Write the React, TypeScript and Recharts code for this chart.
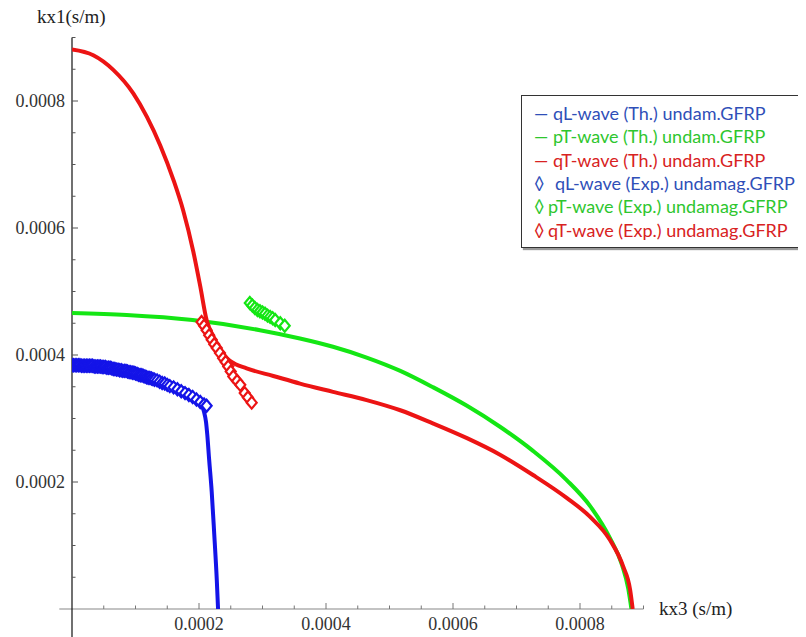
import React from "react";
import { ComposedChart, Line, Scatter, XAxis, YAxis, ReferenceLine } from "recharts";

type Pt = [number, number];

// theory curves (kx3, kx1)
const qLTheory: Pt[] = [
  [0, 0.000383], [0.00003, 0.000383], [0.00006, 0.000381], [0.00009, 0.000377],
  [0.00012, 0.000369], [0.00015, 0.000359], [0.00017, 0.00035], [0.00019, 0.000339],
  [0.000198, 0.000331], [0.000204, 0.000322], [0.000208, 0.00031], [0.000211, 0.000295],
  [0.000213, 0.000275], [0.000216, 0.000235], [0.00022, 0.000185], [0.000224, 0.000118],
  [0.000228, 0.000046], [0.00023, 0],
];

const pTTheory: Pt[] = [
  [0, 0.000466], [0.000086, 0.000463], [0.00019, 0.000455], [0.000296, 0.000439],
  [0.000359, 0.000426], [0.000411, 0.000413], [0.000464, 0.000396], [0.000517, 0.000375],
  [0.000569, 0.000349], [0.000622, 0.00032], [0.000674, 0.000287], [0.000726, 0.000249],
  [0.000779, 0.000203], [0.000816, 0.000162], [0.000847, 0.000112], [0.000866, 0.00007],
  [0.000876, 0.000032], [0.000881, 0],
];

const qTTheory: Pt[] = [
  [0, 0.000881], [0.0000335, 0.000872], [0.000065, 0.000849], [0.0000965, 0.000812],
  [0.000118, 0.000775], [0.000139, 0.00073], [0.00016, 0.000675], [0.000175, 0.000628],
  [0.000191, 0.000563], [0.000202, 0.000508], [0.000212, 0.000455], [0.000222, 0.00043],
  [0.000232, 0.000411], [0.00024, 0.000399], [0.00025, 0.00039], [0.000275, 0.000379],
  [0.000317, 0.000367], [0.000359, 0.000355], [0.000411, 0.000342], [0.000464, 0.000329],
  [0.000517, 0.000313], [0.000569, 0.000292], [0.000622, 0.000269], [0.000674, 0.000243],
  [0.000726, 0.000211], [0.000779, 0.000175], [0.000816, 0.000145], [0.000847, 0.000109],
  [0.000868, 0.000067], [0.000879, 0.00003], [0.000883, 0],
];

// experimental points
const qLExp: Pt[] = [
  [0, 0.000384], [0.0000025, 0.000384], [0.000005, 0.000384], [0.0000075, 0.000384],
  [0.00001, 0.000384], [0.0000125, 0.000384], [0.000015, 0.000383], [0.0000175, 0.000383],
  [0.00002, 0.000383], [0.0000225, 0.000383], [0.000025, 0.000383], [0.0000275, 0.000383],
  [0.00003, 0.000383], [0.0000325, 0.000383], [0.000035, 0.000382], [0.0000375, 0.000382],
  [0.00004, 0.000382], [0.0000425, 0.000382], [0.000045, 0.000382], [0.0000475, 0.000381],
  [0.00005, 0.000381], [0.0000525, 0.000381], [0.000055, 0.00038], [0.0000575, 0.00038],
  [0.00006, 0.00038], [0.0000625, 0.000379], [0.000065, 0.000378], [0.0000675, 0.000378],
  [0.00007, 0.000377], [0.0000725, 0.000377], [0.000075, 0.000376], [0.0000775, 0.000376],
  [0.00008, 0.000375], [0.0000825, 0.000375], [0.000085, 0.000375], [0.0000875, 0.000374],
  [0.00009, 0.000373], [0.0000925, 0.000373], [0.000095, 0.000372], [0.0000975, 0.000372],
  [0.0001, 0.000371], [0.0001025, 0.00037], [0.000105, 0.000369], [0.0001075, 0.000368],
  [0.00011, 0.000368], [0.0001125, 0.000367], [0.000115, 0.000366], [0.0001175, 0.000365],
  [0.00012, 0.000364], [0.0001225, 0.000364], [0.000125, 0.000363], [0.0001275, 0.000362],
  [0.00013, 0.000361], [0.000134, 0.00036], [0.000138, 0.000358], [0.000142, 0.000356],
  [0.000146, 0.000355], [0.00015, 0.000353], [0.000154, 0.000351], [0.00016, 0.000349],
  [0.000166, 0.000346], [0.000172, 0.000343], [0.000178, 0.00034], [0.000184, 0.000337],
  [0.00019, 0.000334], [0.000196, 0.00033], [0.000202, 0.000326], [0.000208, 0.000322],
  [0.000212, 0.00032],
];

const pTExp: Pt[] = [
  [0.00028, 0.000482], [0.000284, 0.000478], [0.000288, 0.000474], [0.000292, 0.000471],
  [0.000296, 0.000469], [0.0003, 0.000467], [0.000304, 0.000465], [0.000308, 0.000462],
  [0.000312, 0.00046], [0.000316, 0.000458], [0.00032, 0.000455], [0.000328, 0.00045],
  [0.000335, 0.000446],
];

const qTExp: Pt[] = [
  [0.000204, 0.000452], [0.000208, 0.000446], [0.000212, 0.000439], [0.000216, 0.000431],
  [0.00022, 0.000424], [0.000224, 0.000417], [0.000228, 0.000411], [0.000233, 0.000403],
  [0.000238, 0.000395], [0.000242, 0.000389], [0.000246, 0.000382], [0.00025, 0.000374],
  [0.000254, 0.000366], [0.00026, 0.000359], [0.000265, 0.000353], [0.000272, 0.00034],
  [0.000277, 0.000333], [0.000283, 0.000325],
];

const axisTicks = [
  0.00005, 0.0001, 0.00015, 0.0002, 0.00025, 0.0003, 0.00035, 0.0004, 0.00045,
  0.0005, 0.00055, 0.0006, 0.00065, 0.0007, 0.00075, 0.0008, 0.00085, 0.0009,
];
const majorTicks = [0.0002, 0.0004, 0.0006, 0.0008];

const BLUE = "#1414e8";
const GREEN = "#14e614";
const RED = "#ec1414";

const legendItems = [
  { mark: "—", label: "qL-wave (Th.) undam.GFRP", color: "#2f4fb8", markX: 12, textX: 31 },
  { mark: "—", label: "pT-wave (Th.) undam.GFRP", color: "#2ec62e", markX: 12, textX: 31 },
  { mark: "—", label: "qT-wave (Th.) undam.GFRP", color: "#d82222", markX: 12, textX: 31 },
  { mark: "◊", label: "qL-wave (Exp.) undamag.GFRP", color: "#2f4fb8", markX: 12, textX: 33 },
  { mark: "◊", label: "pT-wave (Exp.) undamag.GFRP", color: "#2ec62e", markX: 12, textX: 26 },
  { mark: "◊", label: "qT-wave (Exp.) undamag.GFRP", color: "#d82222", markX: 12, textX: 26 },
];

const SERIF = "'Liberation Serif', 'Times New Roman', serif";

const toXY = (pts: Pt[]) => pts.map(([x, y]) => ({ x, y }));
const isMajor = (v: number) => majorTicks.some((m) => Math.abs(m - v) < 1e-9);

function XTick({ x, y, payload }: any) {
  const major = isMajor(payload.value);
  return (
    <g>
      <line x1={x} x2={x} y1={y} y2={y - (major ? 6 : 3.5)} stroke="#777" strokeWidth={1} />
      {major && (
        <text x={x} y={y + 15} dy="0.35em" textAnchor="middle" fontFamily={SERIF} fontSize={18} fill="#333">
          {payload.value.toFixed(4)}
        </text>
      )}
    </g>
  );
}

function YTick({ x, y, payload }: any) {
  const major = isMajor(payload.value);
  return (
    <g>
      <line x1={x} x2={x + (major ? 6 : 3.5)} y1={y} y2={y} stroke="#555" strokeWidth={1} />
      {major && (
        <text x={x - 7} y={y} dy="0.35em" textAnchor="end" fontFamily={SERIF} fontSize={18} fill="#333">
          {payload.value.toFixed(4)}
        </text>
      )}
    </g>
  );
}

const diamond = (color: string) => (props: any) => {
  const { cx, cy } = props;
  if (cx == null || cy == null) return <g />;
  return (
    <path
      d={`M${cx},${cy - 6}L${cx + 5},${cy}L${cx},${cy + 6}L${cx - 5},${cy}Z`}
      fill="#fff"
      stroke={color}
      strokeWidth={2.2}
    />
  );
};

export default function App() {
  return (
    <div style={{ position: "relative", width: 798, height: 629 }}>
      <style>{`html,body{overflow:hidden}`}</style>
      <ComposedChart
        width={798}
        height={629}
        margin={{ top: 29.5, right: 162.5, bottom: 0, left: 0 }}
      >
        <XAxis
          type="number"
          dataKey="x"
          domain={[0, 0.0009]}
          ticks={axisTicks}
          interval={0}
          allowDataOverflow
          axisLine={false}
          tickLine={false}
          tickSize={0}
          tickMargin={0}
          height={28}
          tick={<XTick />}
        />
        <YAxis
          type="number"
          dataKey="y"
          domain={[0, 0.0009]}
          ticks={axisTicks}
          interval={0}
          allowDataOverflow
          axisLine={false}
          tickLine={false}
          tickSize={0}
          tickMargin={0}
          width={64}
          tick={<YTick />}
        />
        <ReferenceLine
          segment={[{ x: -0.00002, y: 0 }, { x: 0.0009, y: 0 }]}
          stroke="#888"
          strokeWidth={1.2}
          ifOverflow="visible"
        />
        <ReferenceLine
          segment={[{ x: 0, y: -0.00005 }, { x: 0, y: 0.0009 }]}
          stroke="#111"
          strokeWidth={1.2}
          ifOverflow="visible"
        />
        <Line data={toXY(pTTheory)} dataKey="y" type="monotone" stroke={GREEN} strokeWidth={4} dot={false} activeDot={false} isAnimationActive={false} />
        <Line data={toXY(qTTheory)} dataKey="y" type="monotone" stroke={RED} strokeWidth={4} dot={false} activeDot={false} isAnimationActive={false} />
        <Line data={toXY(qLTheory)} dataKey="y" type="monotone" stroke={BLUE} strokeWidth={4} dot={false} activeDot={false} isAnimationActive={false} />
        <Scatter data={toXY(qLExp)} dataKey="y" shape={diamond(BLUE)} isAnimationActive={false} />
        <Scatter data={toXY(pTExp)} dataKey="y" shape={diamond(GREEN)} isAnimationActive={false} />
        <Scatter data={toXY(qTExp)} dataKey="y" shape={diamond(RED)} isAnimationActive={false} />
      </ComposedChart>

      <div style={{ position: "absolute", left: 29, top: -2, fontFamily: SERIF, fontSize: 19, lineHeight: "22px", color: "#222", whiteSpace: "nowrap" }}>
        kx1(s/m)
      </div>
      <div style={{ position: "absolute", left: 651, top: 591, fontFamily: SERIF, fontSize: 19, lineHeight: "20px", color: "#222", whiteSpace: "nowrap" }}>
        kx3 (s/m)
      </div>

      <div
        style={{
          position: "absolute",
          left: 513,
          top: 87,
          width: 283,
          height: 151,
          border: "1px solid #333",
          boxShadow: "2px 2px 1px #999",
          background: "#fff",
          fontFamily: "Lato, 'Open Sans', sans-serif",
          fontSize: 18,
          overflow: "hidden",
        }}
      >
        {legendItems.map((item, i) => (
          <div key={i} style={{ position: "absolute", left: 0, top: 6 + i * 23.3, height: 23, width: "100%", color: item.color, lineHeight: "23px", whiteSpace: "nowrap" }}>
            <span style={{ position: "absolute", left: item.markX }}>{item.mark}</span>
            <span style={{ position: "absolute", left: item.textX }}>{item.label}</span>
          </div>
        ))}
      </div>
    </div>
  );
}
